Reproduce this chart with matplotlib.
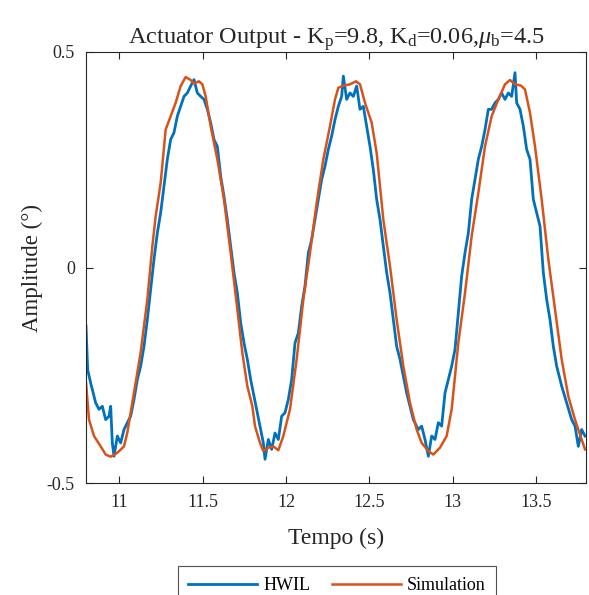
import matplotlib
matplotlib.use("Agg")
import matplotlib.pyplot as plt

plt.rcParams['font.family'] = ['Liberation Serif', 'DejaVu Serif']
plt.rcParams['mathtext.fontset'] = 'custom'
plt.rcParams['mathtext.rm'] = 'Liberation Serif'
plt.rcParams['mathtext.it'] = 'Liberation Serif:italic'

hwil_t = [10.800, 10.810, 10.828, 10.858, 10.878, 10.898, 10.918, 10.938, 10.948, 10.958,
          10.968, 10.988, 11.008, 11.028, 11.048, 11.068, 11.088, 11.108, 11.128, 11.148,
          11.168, 11.188, 11.208, 11.228, 11.248, 11.268, 11.288, 11.308, 11.328, 11.348,
          11.368, 11.388, 11.408, 11.428, 11.448, 11.468, 11.488, 11.508, 11.528, 11.548,
          11.568, 11.588, 11.608, 11.628, 11.648, 11.668, 11.688, 11.708, 11.728, 11.748,
          11.768, 11.788, 11.804, 11.824, 11.844, 11.864, 11.874, 11.894, 11.914, 11.934,
          11.954, 11.974, 11.994, 12.014, 12.034, 12.054, 12.074, 12.094, 12.114, 12.134,
          12.154, 12.174, 12.194, 12.214, 12.234, 12.254, 12.274, 12.294, 12.314, 12.334,
          12.344, 12.364, 12.384, 12.404, 12.424, 12.444, 12.464, 12.484, 12.504, 12.524,
          12.544, 12.564, 12.584, 12.604, 12.624, 12.644, 12.664, 12.684, 12.704, 12.724,
          12.744, 12.764, 12.784, 12.794, 12.814, 12.834, 12.854, 12.874, 12.894, 12.914,
          12.934, 12.954, 12.974, 12.994, 13.014, 13.034, 13.054, 13.074, 13.094, 13.114,
          13.134, 13.154, 13.174, 13.194, 13.214, 13.234, 13.254, 13.274, 13.294, 13.314,
          13.334, 13.354, 13.374, 13.384, 13.404, 13.424, 13.444, 13.464, 13.484, 13.504,
          13.524, 13.544, 13.564, 13.584, 13.604, 13.624, 13.654, 13.684, 13.714, 13.734,
          13.754, 13.774, 13.794]
hwil_v = [-0.136, -0.237, -0.268, -0.314, -0.329, -0.322, -0.353, -0.345, -0.322, -0.407,
          -0.438, -0.391, -0.407, -0.376, -0.360, -0.345, -0.306, -0.260, -0.229, -0.183,
          -0.121, -0.051, 0.019, 0.080, 0.127, 0.189, 0.251, 0.297, 0.313, 0.351,
          0.374, 0.397, 0.405, 0.421, 0.436, 0.405, 0.397, 0.390, 0.367, 0.336,
          0.297, 0.281, 0.212, 0.165, 0.111, 0.049, -0.012, -0.059, -0.128, -0.175,
          -0.213, -0.260, -0.291, -0.329, -0.368, -0.407, -0.445, -0.399, -0.422, -0.384,
          -0.399, -0.345, -0.337, -0.306, -0.260, -0.175, -0.152, -0.090, -0.043, 0.034,
          0.065, 0.111, 0.158, 0.204, 0.235, 0.274, 0.305, 0.343, 0.374, 0.397,
          0.444, 0.390, 0.405, 0.397, 0.421, 0.367, 0.374, 0.328, 0.281, 0.227,
          0.158, 0.111, 0.049, -0.012, -0.059, -0.121, -0.183, -0.213, -0.252, -0.291,
          -0.322, -0.353, -0.368, -0.376, -0.368, -0.399, -0.438, -0.391, -0.399, -0.360,
          -0.368, -0.291, -0.260, -0.229, -0.190, -0.105, -0.020, 0.034, 0.080, 0.158,
          0.204, 0.251, 0.281, 0.320, 0.367, 0.367, 0.382, 0.390, 0.405, 0.390,
          0.405, 0.397, 0.452, 0.382, 0.367, 0.328, 0.274, 0.251, 0.158, 0.127,
          0.096, -0.012, -0.074, -0.121, -0.183, -0.229, -0.275, -0.314, -0.353, -0.368,
          -0.415, -0.376, -0.391]

# Simulation
sim_t = [10.800, 10.818, 10.848, 10.888, 10.918, 10.948, 10.988, 11.028, 11.048, 11.088,
         11.128, 11.168, 11.198, 11.218, 11.248, 11.278, 11.308, 11.338, 11.368, 11.398,
         11.428, 11.448, 11.478, 11.498, 11.518, 11.548, 11.588, 11.628, 11.668, 11.708,
         11.738, 11.768, 11.798, 11.814, 11.844, 11.864, 11.894, 11.924, 11.954, 11.984,
         12.024, 12.064, 12.104, 12.144, 12.184, 12.224, 12.264, 12.294, 12.314, 12.344,
         12.384, 12.420, 12.444, 12.474, 12.514, 12.544, 12.584, 12.624, 12.664, 12.704,
         12.744, 12.784, 12.814, 12.854, 12.884, 12.924, 12.964, 12.994, 13.034, 13.074,
         13.114, 13.154, 13.194, 13.234, 13.274, 13.314, 13.344, 13.374, 13.410, 13.434,
         13.464, 13.494, 13.534, 13.574, 13.614, 13.654, 13.694, 13.734, 13.774, 13.794]
sim_v = [-0.267, -0.353, -0.391, -0.415, -0.434, -0.439, -0.430, -0.415, -0.383, -0.290,
         -0.197, -0.074, 0.049, 0.119, 0.196, 0.320, 0.351, 0.382, 0.421, 0.442,
         0.435, 0.427, 0.432, 0.425, 0.397, 0.328, 0.251, 0.158, 0.034, -0.097,
         -0.198, -0.275, -0.322, -0.368, -0.407, -0.426, -0.418, -0.415, -0.424, -0.391,
         -0.329, -0.213, -0.074, 0.034, 0.150, 0.251, 0.328, 0.390, 0.417, 0.422,
         0.425, 0.432, 0.425, 0.382, 0.336, 0.266, 0.111, 0.003, -0.121, -0.229,
         -0.314, -0.376, -0.407, -0.426, -0.434, -0.418, -0.391, -0.329, -0.175, -0.059,
         0.073, 0.173, 0.281, 0.351, 0.390, 0.425, 0.435, 0.425, 0.422, 0.413,
         0.359, 0.281, 0.158, 0.019, -0.097, -0.213, -0.299, -0.353, -0.399, -0.422]

x_ticks = [11, 11.5, 12, 12.5, 13, 13.5]
x_ticklabels = ['11', '11.5', '12', '12.5', '13', '13.5']
y_ticks = [-0.5, 0, 0.5]
y_ticklabels = ['-0.5', '0', '0.5']

fig = plt.figure(figsize=(5.89, 5.95), dpi=100)
ax = fig.add_axes([86 / 589, 1 - 483 / 595, 500 / 589, 431 / 595])

ax.plot(hwil_t, hwil_v, color='#0072BD', lw=2.0, label='HWIL')
ax.plot(sim_t, sim_v, color='#D95319', lw=1.8, label='Simulation')

ax.set_xlim(10.8, 13.8)
ax.set_ylim(-0.5, 0.5)
ax.set_xticks(x_ticks)
ax.set_xticklabels(x_ticklabels)
ax.set_yticks(y_ticks)
ax.set_yticklabels(y_ticklabels)
ax.tick_params(direction='in', top=True, right=True, length=5, width=0.8,
               labelsize=13, colors='#262626', pad=8)
for s in ax.spines.values():
    s.set_color('#262626')
    s.set_linewidth(0.8)

ax.set_xlabel('Tempo (s)', fontsize=17, color='#262626', labelpad=12)
ax.set_ylabel('Amplitude (°)', fontsize=16.5, color='#262626', labelpad=3)
ax.set_title(r'Actuator Output - K$_\mathrm{p}$=9.8, K$_\mathrm{d}$=0.06,$\mu_\mathrm{b}$=4.5',
             fontsize=17.5, color='#262626', pad=6)

leg = fig.legend(loc='upper center', bbox_to_anchor=(337 / 589, 1 - 566 / 595), ncol=2,
                 fontsize=13, frameon=True, fancybox=False, edgecolor='#262626',
                 handlelength=3.8, handletextpad=0.35, columnspacing=1.2,
                 borderpad=0.6, borderaxespad=0.0)
leg.get_frame().set_linewidth(0.8)

fig.savefig('out.png', dpi=100)
